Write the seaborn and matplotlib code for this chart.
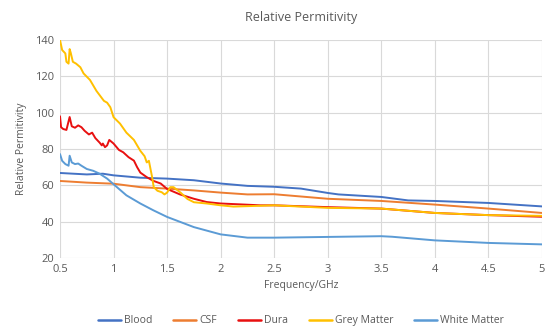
import matplotlib
matplotlib.use("Agg")
import matplotlib.pyplot as plt
import seaborn as sns
import pandas as pd

series_names = ["Blood", "CSF", "Dura", "Grey Matter", "White Matter"]
colors = ["#4472C4", "#ED7D31", "#E81010", "#FFC000", "#5B9BD5"]

blood_x = [0.5, 0.75, 0.9, 1.0, 1.25, 1.5, 1.75, 2.0, 2.25, 2.5, 2.75, 3.0, 3.1, 3.5, 3.75, 4.0, 4.5, 5.0]
blood_y = [66.8, 66.0, 66.4, 65.5, 64.2, 63.7, 62.8, 61.0, 59.7, 59.2, 58.2, 55.8, 55.0, 53.6, 51.7, 51.4, 50.3, 48.4]

csf_x = [0.5, 0.75, 1.0, 1.25, 1.5, 1.75, 2.0, 2.25, 2.5, 3.0, 3.5, 4.0, 4.5, 5.0]
csf_y = [62.4, 61.5, 60.9, 59.0, 58.2, 57.2, 56.0, 55.0, 55.1, 52.6, 51.4, 49.4, 47.2, 44.8]

dura_x = [0.5, 0.51, 0.53, 0.56, 0.59, 0.61, 0.64, 0.67, 0.70, 0.73, 0.77, 0.80, 0.83, 0.87,
          0.89, 0.90, 0.92, 0.94, 0.96, 1.0, 1.05, 1.09, 1.14, 1.19, 1.22, 1.25, 1.31, 1.37,
          1.44, 1.5, 1.62, 1.75, 1.87, 2.0, 2.19, 2.37, 2.5, 3.0, 3.5, 4.0, 4.5, 5.0]
dura_y = [98.0, 92.0, 91.0, 90.5, 97.6, 92.5, 91.7, 93.0, 92.0, 90.0, 88.0, 89.0, 86.0, 83.5,
          82.0, 83.0, 81.0, 82.0, 85.0, 83.0, 79.5, 78.2, 75.5, 73.6, 70.0, 67.0, 64.5, 62.5,
          61.0, 58.0, 55.0, 52.6, 50.8, 50.0, 49.5, 49.0, 49.0, 48.0, 47.2, 44.8, 43.6, 42.7]

grey_x = [0.5, 0.52, 0.55, 0.56, 0.58, 0.59, 0.60, 0.62, 0.65, 0.67, 0.69, 0.72, 0.78, 0.84,
          0.91, 0.94, 0.97, 1.0, 1.06, 1.12, 1.19, 1.25, 1.29, 1.31, 1.33, 1.36, 1.375, 1.41,
          1.45, 1.475, 1.5, 1.53, 1.56, 1.625, 1.69, 1.75, 1.87, 2.0, 2.12, 2.5, 3.0, 3.5,
          4.0, 4.5, 5.0]
grey_y = [140.0, 134.5, 132.6, 128.0, 127.0, 135.0, 133.0, 128.0, 127.0, 126.0, 125.0, 121.6,
          118.0, 112.0, 106.5, 105.5, 103.0, 97.5, 94.0, 89.0, 85.0, 79.0, 76.0, 72.6, 73.5,
          64.5, 59.0, 57.0, 56.2, 55.0, 56.0, 59.0, 59.0, 56.0, 52.5, 50.7, 50.0, 49.0, 48.3,
          49.0, 47.6, 47.2, 44.8, 43.6, 43.2]

white_x = [0.5, 0.52, 0.55, 0.58, 0.59, 0.61, 0.64, 0.67, 0.70, 0.75, 0.81, 0.87, 0.94, 1.0,
           1.12, 1.25, 1.37, 1.5, 1.75, 2.0, 2.25, 2.5, 3.0, 3.5, 3.6, 4.0, 4.5, 5.0]
white_y = [77.2, 73.5, 71.7, 70.8, 76.3, 72.6, 71.7, 72.0, 70.8, 69.0, 68.0, 66.4, 63.7, 60.6,
           54.5, 50.0, 46.3, 42.6, 37.0, 33.0, 31.2, 31.2, 31.6, 32.0, 31.7, 29.7, 28.3, 27.5]

xs = [blood_x, csf_x, dura_x, grey_x, white_x]
ys = [blood_y, csf_y, dura_y, grey_y, white_y]

frames = []
for name, x, y in zip(series_names, xs, ys):
    frames.append(pd.DataFrame({"Frequency": x, "Permitivity": y, "Tissue": name}))
df = pd.concat(frames, ignore_index=True)

sns.set_theme(style="white")
plt.rcParams["font.family"] = ["Open Sans", "DejaVu Sans"]
text_color = "#595959"

fig = plt.figure(figsize=(5.47, 3.27), dpi=100)
ax = fig.add_axes([60 / 547, 1 - 258 / 327, 482 / 547, 218 / 327])

sns.lineplot(data=df, x="Frequency", y="Permitivity", hue="Tissue",
             hue_order=series_names, palette=colors, linewidth=1.4,
             sort=False, estimator=None, ax=ax)

ax.set_xlim(0.5, 5)
ax.set_ylim(20, 140)
ax.set_xticks([0.5, 1, 1.5, 2, 2.5, 3, 3.5, 4, 4.5, 5])
ax.set_xticklabels(["0.5", "1", "1.5", "2", "2.5", "3", "3.5", "4", "4.5", "5"])
ax.set_yticks(range(20, 141, 20))
ax.grid(True, color="#d9d9d9", linewidth=0.8)
for s in ax.spines.values():
    s.set_visible(False)
ax.tick_params(axis="both", colors=text_color, labelsize=8, length=0, pad=4)

ax.set_xlabel("Frequency/GHz", fontsize=7.5, color=text_color, labelpad=4)
ax.set_ylabel("Relative Permitivity", fontsize=7.5, color=text_color, labelpad=6)
fig.text(0.55, 1 - 18 / 327, "Relative Permitivity", ha="center", va="center",
         fontsize=9, color=text_color)

leg = ax.legend(loc="upper center", bbox_to_anchor=(0.5, -0.22), ncol=5, frameon=False,
                fontsize=7.5, handlelength=2.2, handletextpad=0.3, columnspacing=2.0)
for t in leg.get_texts():
    t.set_color(text_color)
for l in leg.get_lines():
    l.set_linewidth(1.8)

fig.savefig("out.png", dpi=100)
